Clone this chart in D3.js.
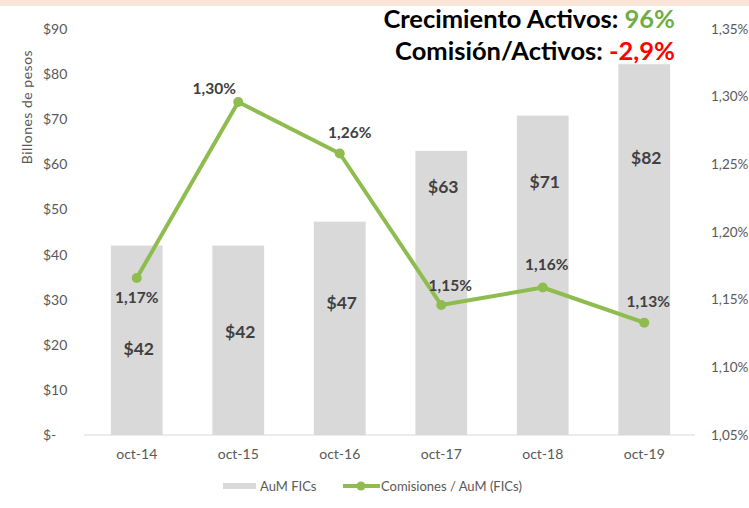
<!DOCTYPE html>
<html>
<head>
<meta charset="utf-8">
<script src="https://cdn.jsdelivr.net/npm/d3@7"></script>
<style>
  body { margin: 0; background: #fff; }
  svg { display: block; font-family: Lato, "Open Sans", sans-serif; }
  .tick-label { fill: #595959; font-size: 14px; }
  .bar-label { fill: #404040; font-size: 17.5px; font-weight: bold; }
  .line-label { fill: #404040; font-size: 15.5px; font-weight: bold; }
</style>
</head>
<body>
<div id="chart"></div>
<script>
// Data
const categories = ['oct-14', 'oct-15', 'oct-16', 'oct-17', 'oct-18', 'oct-19'];
const aumValues = [42, 42, 47.3, 63, 70.8, 82.2];
const aumLabels = ['$42', '$42', '$47', '$63', '$71', '$82'];
const feeRatio = [1.166, 1.296, 1.258, 1.146, 1.159, 1.133];
const feeLabels = ['1,17%', '1,30%', '1,26%', '1,15%', '1,16%', '1,13%'];
const leftTicks = [0, 10, 20, 30, 40, 50, 60, 70, 80, 90];
const rightTicks = [1.05, 1.10, 1.15, 1.20, 1.25, 1.30, 1.35];
const legendNames = ['AuM FICs', 'Comisiones / AuM (FICs)'];

// Hand-placed label nudges (Excel labels were dragged around)
const barLabelDy = [103, 86, 81, 36, 66, 94];
const lineLabelOffset = [[0, 20], [-24, -14], [10, -21], [9, -20], [4, -23], [4, -21]];

const W = 749, H = 508;
const svg = d3.select('#chart').append('svg')
    .attr('width', W).attr('height', H);

// Peach strip at the top
svg.append('rect')
    .attr('x', 0).attr('y', 0).attr('width', W).attr('height', 6)
    .attr('fill', '#fbe5d6');

const x = d3.scaleBand()
    .domain(categories)
    .range([86, 695])
    .paddingInner(0.49)
    .paddingOuter(0.245);

const y = d3.scaleLinear().domain([0, 90]).range([435, 29]);
const y2 = d3.scaleLinear().domain([1.05, 1.35]).range([435, 29]);

// Bars
svg.selectAll('.bar')
    .data(aumValues)
    .enter().append('rect')
    .attr('class', 'bar')
    .attr('x', (d, i) => x(categories[i]))
    .attr('y', d => y(d))
    .attr('width', x.bandwidth())
    .attr('height', d => y(0) - y(d))
    .attr('fill', '#d9d9d9');

// Baseline
svg.append('line')
    .attr('x1', 84).attr('x2', 695)
    .attr('y1', y(0)).attr('y2', y(0))
    .attr('stroke', '#d9d9d9').attr('stroke-width', 1);

// Left axis
const leftAxis = svg.append('g')
    .attr('transform', 'translate(68,0)')
    .call(d3.axisLeft(y).tickValues(leftTicks).tickSize(0)
        .tickFormat(d => d === 0 ? '$-' : '$' + d));
leftAxis.select('.domain').remove();
leftAxis.selectAll('text')
    .attr('class', 'tick-label')
    .attr('x', -25).attr('text-anchor', 'start');
leftAxis.attr('font-family', null).attr('font-size', null);

// Right axis
const rightAxis = svg.append('g')
    .attr('transform', 'translate(711,0)')
    .call(d3.axisRight(y2).tickValues(rightTicks).tickSize(0)
        .tickFormat(d => d.toFixed(2).replace('.', ',') + '%'));
rightAxis.select('.domain').remove();
rightAxis.selectAll('text').attr('class', 'tick-label').attr('x', 0)
    .style('font-size', '13.5px');
rightAxis.attr('font-family', null).attr('font-size', null);

// X axis labels
const xAxis = svg.append('g')
    .attr('transform', 'translate(0,435)')
    .call(d3.axisBottom(x).tickSize(0));
xAxis.select('.domain').remove();
xAxis.selectAll('text').attr('class', 'tick-label').attr('y', 20).attr('dy', '0.32em');
xAxis.attr('font-family', null).attr('font-size', null);

// Y axis title
svg.append('text')
    .attr('transform', 'translate(27,107) rotate(-90)')
    .attr('text-anchor', 'middle')
    .attr('dy', '0.35em')
    .attr('fill', '#595959')
    .style('font-size', '14px')
    .style('letter-spacing', '0.5px')
    .text('Billones de pesos');

// Bar labels
svg.selectAll('.bar-label')
    .data(aumLabels)
    .enter().append('text')
    .attr('class', 'bar-label')
    .attr('x', (d, i) => x(categories[i]) + x.bandwidth() / 2 + 2)
    .attr('y', (d, i) => y(aumValues[i]) + barLabelDy[i])
    .attr('dy', '0.35em')
    .attr('text-anchor', 'middle')
    .text(d => d);

// Commission line
const cx = i => x(categories[i]) + x.bandwidth() / 2;
const line = d3.line()
    .x((d, i) => cx(i))
    .y(d => y2(d));

svg.append('path')
    .datum(feeRatio)
    .attr('fill', 'none')
    .attr('stroke', '#8fbc4f')
    .attr('stroke-width', 4)
    .attr('stroke-linejoin', 'round')
    .attr('d', line);

svg.selectAll('.dot')
    .data(feeRatio)
    .enter().append('circle')
    .attr('class', 'dot')
    .attr('cx', (d, i) => cx(i))
    .attr('cy', d => y2(d))
    .attr('r', 5)
    .attr('fill', '#8fbc4f');

svg.selectAll('.line-label')
    .data(feeLabels)
    .enter().append('text')
    .attr('class', 'line-label')
    .attr('x', (d, i) => cx(i) + lineLabelOffset[i][0])
    .attr('y', (d, i) => y2(feeRatio[i]) + lineLabelOffset[i][1])
    .attr('dy', '0.35em')
    .attr('text-anchor', 'middle')
    .text(d => d);

// Headline
const head1 = svg.append('text')
    .attr('x', 675).attr('y', 28)
    .attr('text-anchor', 'end')
    .style('font-size', '25.5px').style('font-weight', 'bold')
    .attr('fill', '#000');
head1.append('tspan').text('Crecimiento Activos: ');
head1.append('tspan').attr('fill', '#70ad47').text('96%');

const head2 = svg.append('text')
    .attr('x', 675).attr('y', 60)
    .attr('text-anchor', 'end')
    .style('font-size', '25.5px').style('font-weight', 'bold')
    .attr('fill', '#000');
head2.append('tspan').text('Comisión/Activos: ');
head2.append('tspan').attr('fill', '#ff0000').text('-2,9%');

// Legend
const legend = svg.append('g');
legend.append('rect')
    .attr('x', 223).attr('y', 483).attr('width', 33).attr('height', 6)
    .attr('fill', '#d9d9d9');
legend.append('text')
    .attr('class', 'tick-label').style('font-size', '13px')
    .attr('x', 260).attr('y', 486).attr('dy', '0.35em')
    .text(legendNames[0]);
legend.append('line')
    .attr('x1', 343).attr('x2', 380).attr('y1', 486).attr('y2', 486)
    .attr('stroke', '#8fbc4f').attr('stroke-width', 4);
legend.append('circle')
    .attr('cx', 361).attr('cy', 486).attr('r', 4.5)
    .attr('fill', '#8fbc4f');
legend.append('text')
    .attr('class', 'tick-label').style('font-size', '13px')
    .attr('x', 381).attr('y', 486).attr('dy', '0.35em')
    .text(legendNames[1]);
</script>
</body>
</html>
